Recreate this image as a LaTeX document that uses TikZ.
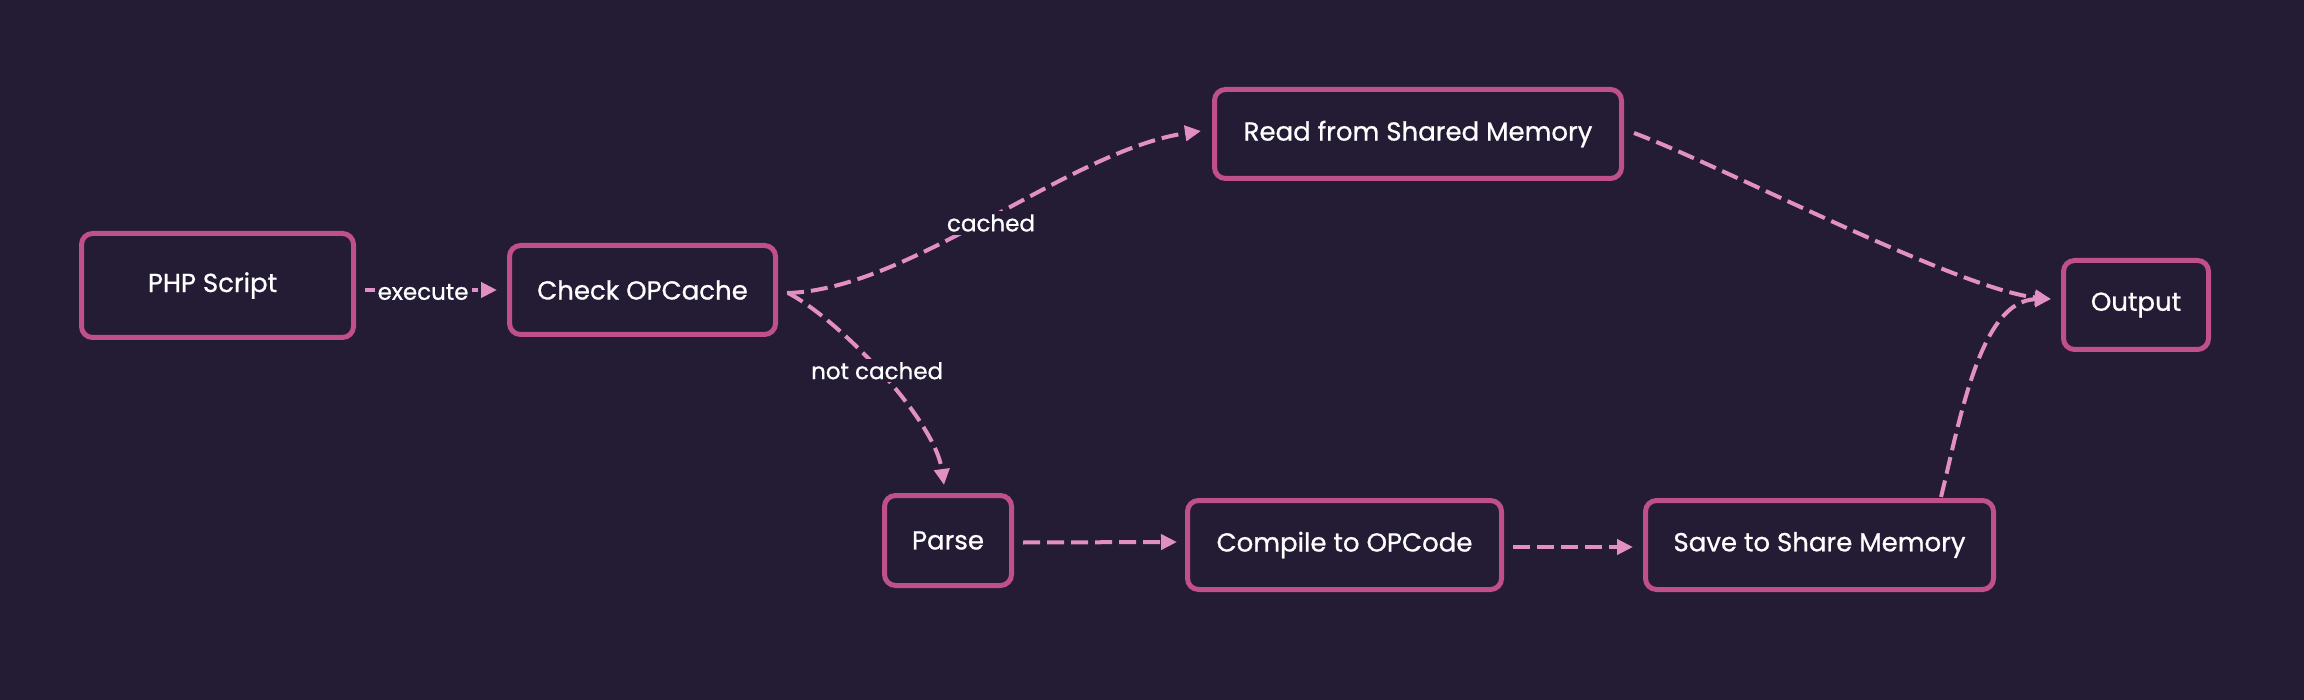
\documentclass[tikz,border=0pt]{standalone}
\usepackage{fontspec}
\setmainfont{Poppins}[FakeBold=0.8]
\usetikzlibrary{arrows.meta,calc}
\definecolor{bgc}{HTML}{241B35}
\definecolor{brd}{HTML}{C0508A}
\definecolor{arr}{HTML}{E28FC3}
\begin{document}
\begin{tikzpicture}[x=1pt,y=-1pt,
 box/.style={draw=brd,line width=5pt,fill=bgc,rounded corners=11pt,text=white,
   font=\fontsize{26}{31}\selectfont,inner sep=0pt},
 link/.style={draw=arr,line width=4pt,dash pattern=on 17pt off 7pt,
   -{Triangle[length=16pt,width=15pt]}},
 lbl/.style={fill=bgc,text=white,font=\fontsize{23}{28}\selectfont,inner sep=3pt}]
\fill[bgc] (0,0) rectangle (2304,700);
\useasboundingbox (0,0) rectangle (2304,700);

\node[box,minimum width=272pt,minimum height=104pt] (php) at (217.5,285.5) {\hspace*{-10pt}PHP Script};
\node[box,minimum width=266pt,minimum height=89pt] (check) at (642.5,290) {Check OPCache};
\node[box,minimum width=407pt,minimum height=89pt] (read) at (1418,134) {Read from Shared Memory};
\node[box,minimum width=127pt,minimum height=90pt] (parse) at (948,540.5) {Parse};
\node[box,minimum width=314pt,minimum height=89pt] (compile) at (1344.5,545) {Compile to OPCode};
\node[box,minimum width=348pt,minimum height=89pt] (save) at (1819.5,545) {Save to Share Memory};
\node[box,minimum width=145pt,minimum height=89pt] (output) at (2136,305) {Output};

\draw[link] ($(php.east|-check.west)+(9,0)$) -- ($(check.west)+(-10,0)$)
  node[lbl,pos=0.44,yshift=-2pt] {execute};
\draw[link] ($(check.east)+(9,3)$) .. controls (910,290) and (1070,150) ..
  ($(read.west)+(-11,-3)$) node[lbl,pos=0.5,yshift=-5pt] {cached};
\draw[link] ($(check.east)+(10,3)$) .. controls (840,320) and (935,420) ..
  ($(parse.north)+(-4,-8)$) node[lbl,pos=0.5,xshift=-5pt,yshift=4pt] {not cached};
\draw[link] ($(parse.east)+(9,2)$) -- ($(compile.west)+(-8,-3)$);
\draw[link] ($(compile.east)+(9,2)$) -- ($(save.west)+(-10,2)$);
\draw[link] ($(read.east)+(10,-1)$) .. controls (1720,165) and (1960,290) ..
  ($(output.west)+(-10,-6)$);
\draw[link] ($(save.north)+(121.5,-1)$) .. controls (1960,420) and (1980,300) ..
  ($(output.west)+(-10,-6)$);
\end{tikzpicture}
\end{document}
